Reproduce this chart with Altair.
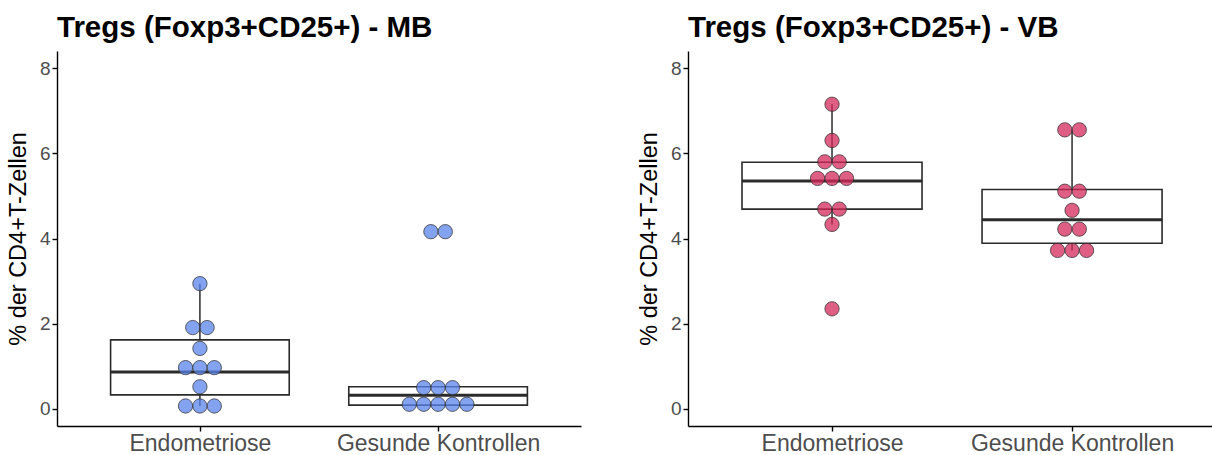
import json
import altair as alt
import pandas as pd

# Groups on the x axis
categories = ["Endometriose", "Gesunde Kontrollen"]

# Dot values (% of CD4+ T cells), one entry per dot, per tissue and group
mb_endometriose = [2.94, 1.91, 1.91, 1.42, 0.97, 0.97, 0.97, 0.52, 0.07, 0.07, 0.07]
mb_kontrollen = [4.16, 4.16, 0.50, 0.50, 0.50, 0.11, 0.11, 0.11, 0.11, 0.11]
vb_endometriose = [7.15, 6.30, 5.80, 5.80, 5.41, 5.41, 5.41, 4.69, 4.69, 4.33, 2.35]
vb_kontrollen = [6.55, 6.55, 5.11, 5.11, 4.66, 4.22, 4.22, 3.72, 3.72, 3.72]

# Box statistics per group (Endometriose, Gesunde Kontrollen)
mb_lower = [0.07, 0.09]
mb_q1 = [0.33, 0.09]
mb_median = [0.87, 0.32]
mb_q3 = [1.62, 0.52]
mb_upper = [2.94, 0.52]

vb_lower = [4.33, 3.72]
vb_q1 = [4.69, 3.89]
vb_median = [5.35, 4.44]
vb_q3 = [5.79, 5.15]
vb_upper = [7.15, 6.55]

FONT = "Liberation Sans"
INK = "#2b2b2b"
BOX_HALF = 0.375      # half box width in category units
DOT_STEP = 0.0604     # horizontal distance between stacked dots, category units
Y_TICKS = [0, 2, 4, 6, 8]

cat_array = json.dumps(categories)


def panel(title, endo, ctrl, lower, q1, med, q3, upper, fill, x_max):
    dots = pd.DataFrame({
        "group": [categories[0]] * len(endo) + [categories[1]] * len(ctrl),
        "pct": endo + ctrl,
    })
    box = pd.DataFrame({
        "group": categories, "lower": lower, "q1": q1,
        "median": med, "q3": q3, "upper": upper,
    })

    xs = alt.Scale(domain=[0.4, x_max], nice=False, zero=False)
    ys = alt.Scale(domain=[-0.4, 8.4], nice=False, zero=False)

    x_axis = alt.Axis(
        title=None, values=[1, 2], labelExpr=f"{cat_array}[datum.value - 1]",
        labelFontSize=23, labelPadding=1, labelLimit=400,
    )
    y_axis = alt.Axis(
        title="% der CD4+T-Zellen", values=Y_TICKS, labelFontSize=19,
        titleFontSize=23.5, titleFontWeight="normal", titlePadding=9,
        labelPadding=2,
    )

    box_base = alt.Chart(box).transform_calculate(
        idx=f"indexof({cat_array}, datum.group) + 1",
        left=f"datum.idx - {BOX_HALF}",
        right=f"datum.idx + {BOX_HALF}",
    )

    rect = box_base.mark_rect(
        fill="white", stroke=INK, strokeWidth=1.6
    ).encode(
        x=alt.X("left:Q", scale=xs, axis=x_axis),
        x2="right:Q",
        y=alt.Y("q1:Q", scale=ys, axis=y_axis),
        y2="q3:Q",
    )
    whisk_hi = box_base.mark_rule(color=INK, strokeWidth=1.5).encode(
        x=alt.X("idx:Q", scale=xs), y=alt.Y("q3:Q", scale=ys), y2="upper:Q"
    )
    whisk_lo = box_base.mark_rule(color=INK, strokeWidth=1.5).encode(
        x=alt.X("idx:Q", scale=xs), y=alt.Y("lower:Q", scale=ys), y2="q1:Q"
    )
    median = box_base.mark_rule(color=INK, strokeWidth=3).encode(
        x=alt.X("left:Q", scale=xs), x2="right:Q", y=alt.Y("median:Q", scale=ys)
    )

    points = alt.Chart(dots).transform_calculate(
        idx=f"indexof({cat_array}, datum.group) + 1"
    ).transform_window(
        slot="row_number()", groupby=["group", "pct"]
    ).transform_joinaggregate(
        n="count()", groupby=["group", "pct"]
    ).transform_calculate(
        xpos=f"datum.idx + (datum.slot - (datum.n + 1) / 2) * {DOT_STEP}"
    ).mark_circle(
        size=205, fill=fill, fillOpacity=0.75, stroke="#333333",
        strokeWidth=1, strokeOpacity=0.75,
    ).encode(
        x=alt.X("xpos:Q", scale=xs),
        y=alt.Y("pct:Q", scale=ys),
    )

    return alt.layer(rect, whisk_hi, whisk_lo, median, points).properties(
        width=524, height=375,
        title=alt.TitleParams(
            text=title, anchor="start", frame="group", fontSize=29.5,
            fontWeight="bold", font=FONT, color="black",
            baseline="bottom", offset=-21,
        ),
    )


left = panel("Tregs (Foxp3+CD25+) - MB", mb_endometriose, mb_kontrollen,
             mb_lower, mb_q1, mb_median, mb_q3, mb_upper, "#5a83ea", 2.6)
right = panel("Tregs (Foxp3+CD25+) - VB", vb_endometriose, vb_kontrollen,
              vb_lower, vb_q1, vb_median, vb_q3, vb_upper, "#d4285a", 2.583)

chart = alt.hconcat(left, right, spacing=56).properties(
    padding={"left": 6, "top": 12, "right": 0, "bottom": 2},
    background="white",
).configure_view(
    stroke=None
).configure_axis(
    grid=False, domainColor="black", domainWidth=1.4, tickColor="black",
    tickWidth=1.4, tickSize=5, labelColor="#4d4d4d", titleColor="black",
    labelFont=FONT, titleFont=FONT,
)

chart.save("out.html", embed_options={"renderer": "svg", "actions": False})
